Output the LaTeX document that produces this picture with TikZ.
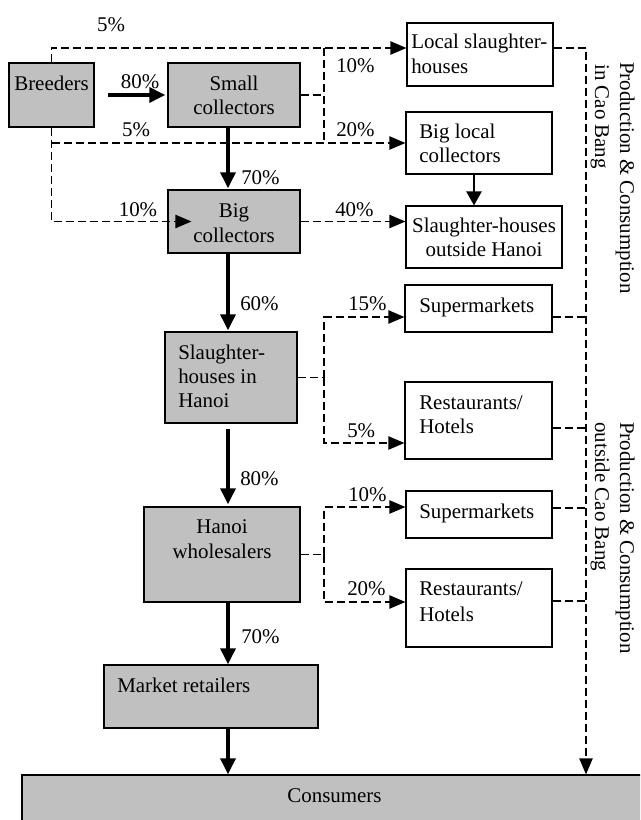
\documentclass[tikz,border=0pt]{standalone}
\usepackage{fontspec}
\setmainfont{Liberation Serif}
\usetikzlibrary{arrows.meta,fit}
\definecolor{boxgray}{RGB}{192,192,192}
\begin{document}
\begin{tikzpicture}[x=0.75pt,y=-0.75pt,
 gbox/.style={draw=black, line width=0.9pt, fill=boxgray, inner sep=0pt},
 wbox/.style={draw=black, line width=0.9pt, fill=white, inner sep=0pt},
 txt/.style={inner sep=0pt, anchor=base, font=\fontsize{15.7pt}{18.75pt}\selectfont},
 ltxt/.style={txt, anchor=base west},
 rtxt/.style={txt, anchor=base west, rotate=-90},
 thk/.style={line width=3pt, -{Triangle[length=12pt,width=11pt]}},
 dsh/.style={line width=1pt, dash pattern=on 6pt off 3pt},
 darr/.style={dsh, -{Triangle[length=12pt,width=10pt]}},
 tarr/.style={line width=1pt, -{Triangle[length=10.5pt,width=11.5pt]}}
]
\clip (0,0) rectangle (640,820);
% helper coordinates
\coordinate (ax) at (228,0);
\coordinate (v324) at (324,0);
\coordinate (v586) at (586,0);
\coordinate (v474) at (474,0);
\coordinate (h48) at (0,48);
\coordinate (h143) at (0,143);
\coordinate (h317) at (0,317);
\coordinate (h443) at (0,443);
\coordinate (h428) at (0,428);
\coordinate (h507) at (0,507);
\coordinate (h508) at (0,508);
\coordinate (h602) at (0,602);
\coordinate (h601) at (0,601);
% boxes
\node[gbox, fit={(9,63) (94,127)}] (br) {};
\node[gbox, fit={(168,63) (300,127)}] (sc) {};
\node[gbox, fit={(168,190) (300,253)}] (bc) {};
\node[gbox, fit={(165,332) (297,423)}] (sh) {};
\node[gbox, fit={(144,507) (300,602)}] (hw) {};
\node[gbox, fit={(104,665) (318,728)}] (mr) {};
\node[gbox, fit={(22,775) (700,840)}] (cons) {};
\node[wbox, fit={(407,23) (553,86)}] (ls) {};
\node[wbox, fit={(406,112) (552,174)}] (blc) {};
\node[wbox, fit={(406,206) (562,268)}] (sho) {};
\node[wbox, fit={(405,285) (552,332)}] (sm1) {};
\node[wbox, fit={(405,382) (552,459)}] (rh1) {};
\node[wbox, fit={(406,491) (552,538)}] (sm2) {};
\node[wbox, fit={(406,569) (552,647)}] (rh2) {};
% box texts
\node[txt] (tbr) at (51.5,91) {Breeders};
\node[txt] (tsc1) at (234,91) {Small};
\node[txt] (tsc2) at (234,115) {collectors};
\node[txt] (tbc1) at (234,217) {Big};
\node[txt] (tbc2) at (234,242) {collectors};
\node[ltxt] (tsh1) at (178,359) {Slaughter-};
\node[ltxt] (tsh2) at (178,383) {houses in};
\node[ltxt] (tsh3) at (178,407) {Hanoi};
\node[txt] (thw1) at (222,533) {Hanoi};
\node[txt] (thw2) at (222,558) {wholesalers};
\node[ltxt] (tmr) at (117,692) {Market retailers};
\node[txt] (tcons) at (334.5,802) {Consumers};
\node[ltxt] (tls1) at (411,49) {Local slaughter-};
\node[ltxt] (tls2) at (411,74) {houses};
\node[ltxt] (tblc1) at (419,138) {Big local};
\node[ltxt] (tblc2) at (419,162) {collectors};
\node[txt] (tsho1) at (484,232) {Slaughter-houses};
\node[txt] (tsho2) at (484,256) {outside Hanoi};
\node[ltxt] (tsm1) at (419,312) {Supermarkets};
\node[ltxt] (trh1a) at (419,409) {Restaurants/};
\node[ltxt] (trh1b) at (419,433) {Hotels};
\node[ltxt] (tsm2) at (419,518) {Supermarkets};
\node[ltxt] (trh2a) at (419,595) {Restaurants/};
\node[ltxt] (trh2b) at (419,621) {Hotels};
% rotated side texts
\node[rtxt] (side1a) at (620,62) {Production \& Consumption};
\node[rtxt] (side1b) at (595,64) {in Cao Bang};
\node[rtxt] (side2a) at (620,422) {Production \& Consumption};
\node[rtxt] (side2b) at (595,422) {outside Cao Bang};
% thick main-chain arrows
\draw[thk, shorten <=9.75pt, shorten >=1.5pt] (br.east) -- (sc.west);
\draw[thk, shorten >=0.75pt] (sc.south -| ax) -- (bc.north -| ax);
\draw[thk, shorten >=0.75pt] (bc.south -| ax) -- (sh.north -| ax);
\draw[thk, shorten <=3.75pt, shorten >=1.5pt] (sh.south -| ax) -- (hw.north -| ax);
\draw[thk] (hw.south -| ax) -- (mr.north -| ax);
\draw[thk] (mr.south -| ax) -- (cons.north -| ax);
% dashed flows, upper part
\draw[darr] (br.north) |- (ls.west |- h48);
\draw[dsh] (sc.east) -- (sc.east -| v324);
\draw[dsh] (v324 |- h48) -- (v324 |- h143);
\draw[darr, shorten >=-18pt] (br.south) |- (bc.west);
\draw[darr] (br.south |- h143) -- (blc.west |- h143);
\draw[darr] (bc.east) -- (sho.west |- bc.east);
\draw[tarr] (blc.south -| v474) -- (sho.north -| v474);
% dashed flows, Hanoi part
\draw[dsh] (sh.east) -- (sh.east -| v324);
\draw[darr] (sh.east -| v324) |- (sm1.west |- h317);
\draw[darr] (sh.east -| v324) |- (rh1.west |- h443);
\draw[dsh] (hw.east) -- (hw.east -| v324);
\draw[darr] (hw.east -| v324) |- (sm2.west |- h507);
\draw[darr] (hw.east -| v324) |- (rh2.west |- h602);
% right collector line to consumers
\draw[darr] (ls.east |- h48) -| (v586 |- cons.north);
\draw[dsh] (sm1.east |- h317) -- (v586 |- h317);
\draw[dsh] (rh1.east |- h428) -- (v586 |- h428);
\draw[dsh] (sm2.east |- h508) -- (v586 |- h508);
\draw[dsh] (rh2.east |- h601) -- (v586 |- h601);
% percentages
\node[txt] (p1) at (111,32) {5\%};
\node[txt] (p2) at (140,89) {80\%};
\node[txt] (p3) at (136,137) {5\%};
\node[ltxt] (p4) at (241,184) {70\%};
\node[txt] (p5) at (138,216) {10\%};
\node[ltxt] (p6) at (336,73) {10\%};
\node[ltxt] (p7) at (336,137) {20\%};
\node[ltxt] (p8) at (335,216) {40\%};
\node[ltxt] (p9) at (240,310) {60\%};
\node[ltxt] (p10) at (348,310) {15\%};
\node[ltxt] (p11) at (347,437) {5\%};
\node[ltxt] (p12) at (240,485) {80\%};
\node[ltxt] (p13) at (348,501) {10\%};
\node[ltxt] (p14) at (347,595) {20\%};
\node[ltxt] (p15) at (241,643) {70\%};
\end{tikzpicture}
\end{document}
